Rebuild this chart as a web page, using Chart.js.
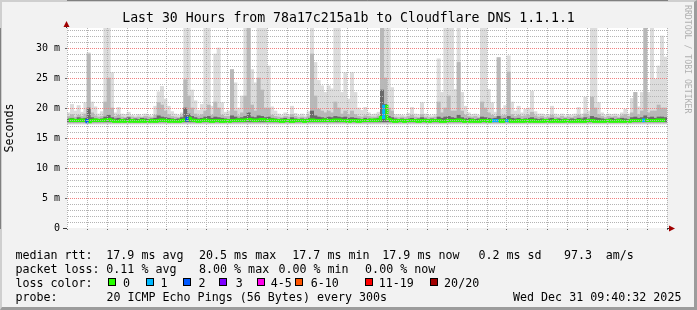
<!DOCTYPE html>
<html lang="en">
<head>
  <meta charset="UTF-8" />
  <title>Smokeping - Cloudflare DNS 1.1.1.1</title>
  <script src="https://cdn.jsdelivr.net/npm/chart.js"></script>
  <style>
    html, body { margin: 0; padding: 0; background: #f2f2f2; }
    #frame {
      position: absolute; left: 0; top: 0; width: 697px; height: 310px;
      box-sizing: border-box; background: #f2f2f2;
      border-top: 2px solid #cfcfcf; border-left: 2px solid #cfcfcf;
      border-right: 3px solid #9c9c9c; border-bottom: 3px solid #9c9c9c;
    }
    #chart { position: absolute; left: 0; top: 0; }
    .txt {
      position: absolute; font-family: 'DejaVu Sans Mono', monospace;
      font-size: 11.67px; line-height: 14px; white-space: pre; color: #000;
    }
    .box { position: absolute; width: 8px; height: 8px; box-sizing: border-box; border: 1px solid #000; }
    #mark {
      position: absolute; left: 683px; top: 5px; writing-mode: vertical-rl;
      font: 8.2px/10px 'DejaVu Sans Mono', monospace; color: #b0b0b0; white-space: pre;
    }
  </style>
</head>
<body>
  <div id="frame"></div>
  <canvas id="chart" width="697" height="310"></canvas>
  <div id="mark">RRDTOOL / TOBI OETIKER</div>
  <div id="legend"></div>

  <script>
    // time axis: hours since Tue 00:00, 30 hours ending Wed 09:40:32, 10 minute bins
    const startHour = 3 + 40 / 60 + 32 / 3600;
    const spanHours = 30;
    const stepHours = 10 / 60;
    const dayNames = ["Tue", "Wed"];

    // highest ping per bin (light smoke), ms
    const smokeMax = [
      19.2, 20.6, 19.5, 20.4, 19.3, 20.9, 29.2, 21.0, 20.2, 19.0,
      19.4, 34, 34, 25.9, 19.2, 20.1, 19.0, 18.9, 19.3, 18.8,
      18.7, 18.9, 18.7, 19.0, 18.8, 18.7, 20.3, 22.7, 23.6, 21.5,
      20.3, 19.4, 19.0, 18.8, 19.2, 34, 34, 23.0, 21.2, 19.6,
      20.6, 34, 34, 20.3, 29.0, 30.0, 20.9, 19.3, 19.5, 26.4,
      24.2, 20.0, 22.0, 34, 34, 26.4, 24.2, 34, 34, 34,
      27.0, 20.2, 19.5, 19.0, 18.8, 19.2, 18.9, 20.3, 19.1, 18.8,
      19.0, 18.7, 19.4, 34, 27.6, 24.6, 23.7, 22.6, 23.7, 23.2,
      34, 34, 22.6, 25.9, 21.5, 25.9, 22.6, 20.0, 19.6, 20.1,
      19.2, 18.9, 19.0, 19.3, 34, 34, 34, 23.4, 18.9, 18.9,
      18.8, 18.7, 19.1, 20.1, 19.0, 18.9, 20.9, 19.0, 18.8, 18.7,
      18.9, 28.2, 22.6, 34, 34, 34, 23.1, 34, 22.6, 20.3,
      19.2, 18.9, 19.0, 18.8, 34, 34, 23.1, 20.9, 19.3, 28.4,
      19.8, 20.4, 28.7, 21.0, 19.5, 20.3, 19.2, 19.8, 20.0, 22.8,
      19.4, 19.0, 19.0, 18.8, 18.9, 20.3, 19.0, 18.8, 19.0, 18.7,
      18.9, 18.8, 19.0, 20.1, 19.0, 21.8, 19.5, 34, 34, 20.9,
      19.2, 18.8, 19.0, 18.9, 19.0, 18.8, 19.2, 19.8, 19.0, 21.6,
      22.6, 20.2, 22.6, 34, 22.6, 34, 24.8, 27.0, 32.0, 28.5
    ];

    // upper pings (medium smoke), ms
    const smokeMid = [
      18.6, 18.9, 18.5, 18.8, 18.6, 19.0, 29.0, 19.2, 18.7, 18.5,
      18.6, 21.0, 25.0, 20.0, 18.6, 18.8, 18.5, 18.4, 18.6, 18.5,
      18.4, 18.5, 18.4, 18.6, 18.5, 18.4, 18.8, 20.9, 20.5, 19.5,
      18.9, 18.6, 18.5, 18.4, 18.7, 24.7, 22.0, 20.0, 19.0, 18.7,
      18.9, 19.5, 20.5, 18.8, 21.0, 20.0, 18.8, 18.6, 18.6, 26.4,
      19.5, 18.7, 19.2, 22.0, 34, 20.5, 19.5, 25.0, 23.0, 20.0,
      20.0, 18.8, 18.6, 18.5, 18.4, 18.6, 18.5, 18.9, 18.6, 18.4,
      18.5, 18.4, 18.7, 29.0, 22.0, 19.8, 19.5, 19.2, 19.5, 19.2,
      21.0, 20.0, 19.0, 19.5, 18.9, 19.5, 18.9, 18.6, 18.5, 18.7,
      18.6, 18.5, 18.5, 18.7, 34, 25.0, 20.0, 19.5, 18.5, 18.4,
      18.5, 18.4, 18.6, 18.8, 18.5, 18.4, 18.9, 18.5, 18.4, 18.4,
      18.5, 21.0, 19.2, 20.0, 22.0, 19.5, 19.5, 27.6, 19.5, 18.8,
      18.6, 18.5, 18.6, 18.4, 21.0, 20.0, 19.2, 18.8, 18.6, 28.4,
      18.7, 18.8, 26.0, 18.9, 18.6, 18.8, 18.6, 18.7, 18.8, 19.3,
      18.7, 18.5, 18.6, 18.4, 18.5, 18.8, 18.5, 18.4, 18.6, 18.4,
      18.5, 18.4, 18.6, 18.8, 18.5, 19.0, 18.7, 21.8, 20.0, 18.9,
      18.6, 18.4, 18.6, 18.5, 18.6, 18.4, 18.7, 18.9, 18.6, 19.2,
      22.6, 18.9, 19.5, 34, 19.2, 19.5, 19.5, 20.5, 20.0, 20.0
    ];

    // pings closest to the median (dark smoke), ms
    const smokeCore = [
      18.2, 18.3, 18.1, 18.4, 18.2, 18.3, 20.0, 18.4, 18.2, 18.1,
      18.2, 18.5, 18.8, 18.4, 18.2, 18.3, 18.1, 18.2, 18.4, 18.1,
      18.2, 18.1, 18.3, 18.2, 18.1, 18.2, 18.3, 18.7, 18.5, 18.4,
      18.3, 18.2, 18.1, 18.2, 18.4, 20.0, 19.0, 18.6, 18.4, 18.2,
      18.3, 18.5, 18.6, 18.3, 18.5, 18.4, 18.3, 18.2, 18.1, 18.7,
      18.5, 18.3, 18.4, 18.6, 19.2, 18.5, 18.4, 18.7, 18.6, 18.4,
      18.5, 18.3, 18.2, 18.1, 18.2, 18.3, 18.1, 18.4, 18.2, 18.1,
      18.2, 18.1, 18.3, 19.5, 18.7, 18.5, 18.4, 18.3, 18.5, 18.4,
      18.6, 18.5, 18.4, 18.5, 18.3, 18.4, 18.3, 18.2, 18.1, 18.3,
      18.2, 18.1, 18.2, 18.3, 23.0, 20.6, 18.6, 18.4, 18.2, 18.1,
      18.2, 18.1, 18.2, 18.3, 18.1, 18.2, 18.4, 18.2, 18.1, 18.2,
      18.1, 18.5, 18.3, 18.5, 18.6, 18.4, 18.3, 18.8, 18.4, 18.2,
      18.3, 18.2, 18.1, 18.2, 18.5, 18.4, 18.3, 18.2, 18.3, 18.6,
      18.2, 18.3, 18.6, 18.3, 18.2, 18.3, 18.1, 18.2, 18.3, 18.4,
      18.2, 18.1, 18.2, 18.1, 18.2, 18.3, 18.1, 18.2, 18.1, 18.2,
      18.1, 18.2, 18.1, 18.3, 18.2, 18.4, 18.2, 18.6, 18.4, 18.3,
      18.2, 18.1, 18.2, 18.3, 18.1, 18.2, 18.3, 18.2, 18.1, 18.4,
      18.5, 18.3, 18.4, 18.7, 18.4, 18.5, 18.3, 18.5, 18.5, 18.4
    ];

    // median rtt, ms
    const median = [
      17.9, 18.0, 17.9, 17.9, 18.0, 17.9, 17.7, 17.9, 18.0, 17.9,
      17.9, 18.0, 18.1, 17.9, 17.8, 17.8, 17.9, 17.8, 17.8, 17.9,
      17.8, 17.8, 17.9, 17.8, 17.8, 17.9, 17.8, 17.9, 18.0, 17.9,
      17.8, 17.9, 17.8, 17.8, 17.9, 18.0, 18.3, 18.0, 17.9, 17.8,
      17.9, 18.0, 17.9, 17.8, 17.9, 17.9, 17.8, 17.9, 17.8, 17.9,
      17.9, 18.0, 17.9, 18.0, 18.1, 18.0, 17.9, 18.0, 18.1, 18.0,
      17.9, 18.0, 17.9, 17.9, 17.8, 17.9, 17.9, 17.8, 17.9, 17.9,
      17.9, 17.8, 17.9, 18.0, 17.9, 17.9, 17.9, 18.0, 17.9, 17.9,
      18.0, 18.0, 17.9, 17.9, 17.8, 17.9, 17.9, 17.8, 17.9, 17.9,
      17.9, 18.0, 17.9, 18.0, 18.4, 20.3, 18.1, 17.9, 17.8, 17.9,
      17.9, 17.8, 17.9, 17.9, 17.9, 17.8, 17.9, 17.9, 17.8, 17.9,
      17.9, 17.9, 17.8, 17.8, 17.9, 17.9, 17.9, 18.0, 17.9, 17.8,
      17.8, 17.9, 17.8, 17.8, 17.9, 17.9, 17.8, 17.9, 17.9, 17.9,
      17.8, 17.9, 17.9, 17.8, 17.8, 17.9, 17.8, 17.9, 17.8, 17.9,
      17.8, 17.8, 17.8, 17.9, 17.8, 17.8, 17.9, 17.8, 17.8, 17.9,
      17.8, 17.8, 17.8, 17.9, 17.8, 17.8, 17.9, 17.9, 17.8, 17.8,
      17.8, 17.8, 17.9, 17.8, 17.8, 17.9, 17.8, 17.8, 17.8, 17.9,
      17.9, 17.9, 17.9, 18.0, 17.9, 17.9, 17.9, 18.0, 17.9, 18.0
    ];

    // lost pings out of 20 per bin
    const loss = [
      0, 0, 0, 0, 0, 0, 2, 0, 0, 0, 0, 0, 0, 0, 0, 0, 0, 0, 0, 0,
      0, 0, 0, 0, 0, 0, 0, 0, 0, 0, 0, 0, 0, 0, 0, 0, 2, 0, 0, 0,
      0, 0, 0, 0, 0, 0, 0, 0, 0, 0, 0, 0, 0, 0, 0, 0, 0, 0, 0, 0,
      0, 0, 0, 0, 0, 0, 0, 0, 0, 0, 0, 0, 0, 0, 0, 0, 0, 0, 0, 0,
      0, 0, 0, 0, 0, 0, 0, 0, 0, 0, 0, 0, 0, 0, 0, 1, 0, 0, 0, 0,
      0, 0, 0, 0, 0, 0, 0, 0, 0, 0, 0, 0, 0, 0, 0, 0, 0, 0, 0, 0,
      0, 0, 0, 0, 0, 0, 0, 0, 1, 1, 0, 0, 1, 0, 0, 0, 0, 0, 0, 0,
      0, 0, 0, 0, 0, 0, 0, 0, 0, 0, 0, 0, 0, 0, 0, 0, 0, 0, 0, 0,
      0, 0, 0, 0, 0, 0, 0, 0, 0, 0, 0, 0, 0, 1, 0, 0, 0, 0, 0, 0
    ];

    // lowest ping levels of the three smoke bands
    const smokeFloor = [17.3, 17.5, 17.7];

    const lossLabels = ["0", "1", "2", "3", "4-5", "6-10", "11-19", "20/20"];
    const lossUpper = [0, 1, 2, 3, 5, 10, 19, 20];
    const lossColors = ["#26ff00", "#00b8ff", "#0059ff", "#7e00ff", "#ff00ea", "#ff5500", "#ff0000", "#a10000"];

    const rttStats = ["17.9 ms avg", "20.5 ms max", "17.7 ms min", "17.9 ms now", "0.2 ms sd", "97.3", "am/s"];
    const lossStats = ["0.11 % avg", "8.00 % max", "0.00 % min", "0.00 % now"];
    const probeText = "20 ICMP Echo Pings (56 Bytes) every 300s";
    const stampText = "Wed Dec 31 09:40:32 2025";
    const titleText = "Last 30 Hours from 78a17c215a1b to Cloudflare DNS 1.1.1.1";

    const majorGrid = "#f08080";
    const minorGrid = "#b4b4b4";
    const mono = "'DejaVu Sans Mono', monospace";

    const binX = i => startHour + (i + 0.5) * stepHours;
    const lossColor = n => lossColors[lossUpper.findIndex(u => n <= u)];
    const band = (tops, lo) => tops.map((v, i) => ({ x: binX(i), y: [lo, v] }));

    // white plot canvas and the rrdtool style arrows on the axes
    const plotBack = {
      id: "plotBack",
      beforeDraw(chart) {
        const { ctx, chartArea: a } = chart;
        ctx.save();
        ctx.fillStyle = "#fff";
        ctx.fillRect(a.left, a.top, a.right - a.left, a.bottom - a.top);
        ctx.restore();
      },
      afterDraw(chart) {
        const { ctx, chartArea: a } = chart;
        ctx.save();
        ctx.strokeStyle = "#333";
        ctx.lineWidth = 1;
        ctx.beginPath();
        ctx.moveTo(a.left - 0.5, a.top);
        ctx.lineTo(a.left - 0.5, a.top - 3);
        ctx.moveTo(a.left - 4, a.bottom + 0.5);
        ctx.lineTo(a.left, a.bottom + 0.5);
        ctx.moveTo(a.right, a.bottom + 0.5);
        ctx.lineTo(a.right + 3, a.bottom + 0.5);
        ctx.stroke();
        ctx.fillStyle = "#a00000";
        ctx.beginPath();
        ctx.moveTo(a.left - 0.5, a.top - 7);
        ctx.lineTo(a.left - 3.5, a.top - 1);
        ctx.lineTo(a.left + 2.5, a.top - 1);
        ctx.closePath();
        ctx.fill();
        ctx.beginPath();
        ctx.moveTo(a.right + 8, a.bottom + 0.5);
        ctx.lineTo(a.right + 2, a.bottom - 2.5);
        ctx.lineTo(a.right + 2, a.bottom + 3.5);
        ctx.closePath();
        ctx.fill();
        ctx.restore();
      }
    };

    Chart.defaults.font.family = mono;
    Chart.defaults.color = "#000";

    const barBase = { type: "bar", grouped: false, barPercentage: 1, categoryPercentage: 1, borderWidth: 0 };

    new Chart(document.getElementById("chart"), {
      type: "bar",
      data: {
        datasets: [
          {
            type: "line",
            label: "median rtt",
            data: median.map((v, i) => ({ x: binX(i), y: v })),
            stepped: "middle",
            borderWidth: 3,
            borderColor: lossColors[0],
            pointRadius: 0,
            segment: { borderColor: c => lossColor(loss[c.p1DataIndex]) },
            order: 0
          },
          { ...barBase, label: "core", data: band(smokeCore, smokeFloor[2]), backgroundColor: "#6a6a6a", order: 1 },
          { ...barBase, label: "mid", data: band(smokeMid, smokeFloor[1]), backgroundColor: "#b8b8b8", order: 2 },
          { ...barBase, label: "max", data: band(smokeMax, smokeFloor[0]), backgroundColor: "#dcdcdc", order: 3 }
        ]
      },
      options: {
        responsive: false,
        animation: false,
        events: [],
        layout: { padding: 0 },
        plugins: {
          legend: { display: false },
          tooltip: { enabled: false },
          title: {
            display: true,
            text: titleText,
            color: "#000",
            font: { size: 13.2, weight: "normal", lineHeight: "16px" },
            padding: { top: 11, bottom: 1 }
          }
        },
        scales: {
          x: {
            type: "linear",
            min: startHour,
            max: startHour + spanHours,
            offset: false,
            grid: {
              offset: false,
              z: 1,
              color: c => (c.tick.value % 3 === 0 ? majorGrid : minorGrid),
              tickLength: 2,
              tickColor: "#666"
            },
            border: { color: "#333", dash: [1, 1] },
            ticks: {
              stepSize: 1,
              includeBounds: false,
              autoSkip: false,
              maxRotation: 0,
              padding: 1,
              font: { size: 10 },
              callback: v => {
                if (v % 6 !== 0) return "";
                const h = v % 24;
                return dayNames[Math.floor(v / 24)] + " " + String(h).padStart(2, "0") + ":00";
              }
            },
            afterFit: s => { s.height = 82; }
          },
          y: {
            min: 0,
            max: 200 / 6,
            grid: {
              z: 1,
              color: c => (c.tick.value === 0 ? "transparent" : c.tick.value % 5 === 0 ? majorGrid : minorGrid),
              tickLength: 2,
              tickColor: c => (c.tick.value % 5 === 0 ? "#666" : "transparent")
            },
            border: { color: "#333", dash: [1, 1] },
            ticks: {
              stepSize: 1,
              includeBounds: false,
              autoSkip: false,
              padding: 5,
              font: { size: 10 },
              callback: v => (v % 5 !== 0 ? "" : v === 0 ? "0" : v + " m")
            },
            title: {
              display: true,
              text: "Seconds",
              font: { size: 11.67 },
              padding: { top: 3, bottom: 0 }
            },
            afterFit: s => { s.width = 67; }
          },
          gap: {
            type: "linear",
            position: "right",
            grid: { display: false },
            ticks: { display: false },
            border: { display: false },
            afterFit: s => { s.width = 30; }
          }
        }
      },
      plugins: [plotBack]
    });

    // legend block under the graph, rrdtool style
    const legend = document.getElementById("legend");
    const rowTop = [247.6, 261.6, 275.7, 289.8];
    const rttX = [106.3, 199, 292.3, 382.3, 478.4, 564, 605.8];
    const lossX = [106.3, 199, 278.4, 365.1];
    const boxX = [108, 145.5, 182.5, 219, 256.5, 295, 365, 430];
    const labelX = [123.1, 160.4, 198.4, 235.8, 270.8, 310.8, 378.7, 444.1];

    function put(text, x, row) {
      const s = document.createElement("span");
      s.className = "txt";
      s.textContent = text;
      s.style.left = x + "px";
      s.style.top = rowTop[row] + "px";
      legend.appendChild(s);
    }

    put("median rtt:", 15.4, 0);
    rttStats.forEach((t, i) => put(t, rttX[i], 0));
    put("packet loss:", 15.4, 1);
    lossStats.forEach((t, i) => put(t, lossX[i], 1));
    put("loss color:", 15.4, 2);
    lossLabels.forEach((t, i) => {
      const b = document.createElement("div");
      b.className = "box";
      b.style.left = boxX[i] + "px";
      b.style.top = "278px";
      b.style.background = lossColors[i];
      legend.appendChild(b);
      put(t, labelX[i], 2);
    });
    put("probe:", 15.4, 3);
    put(probeText, 106.4, 3);
    put(stampText, 513, 3);
  </script>
</body>
</html>
